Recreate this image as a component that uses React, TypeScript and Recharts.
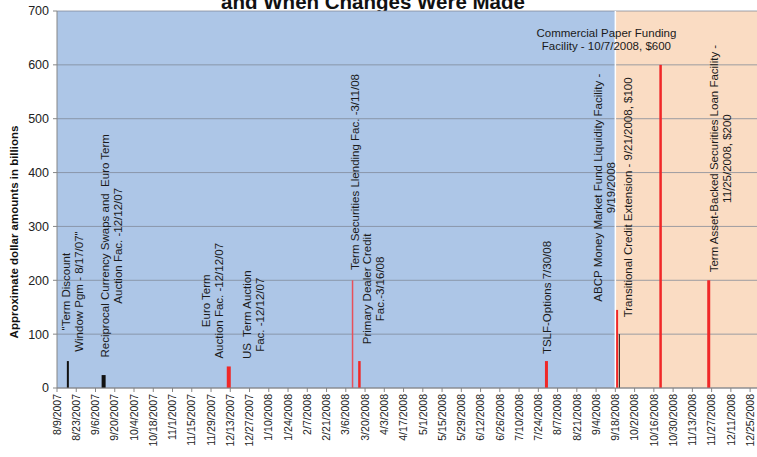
import { ComposedChart, Bar, XAxis, YAxis, CartesianGrid, ReferenceArea, ReferenceLine, ReferenceDot } from "recharts";

// x-axis tick labels (every two weeks)
const tickLabels = [
  "8/9/2007", "8/23/2007", "9/6/2007", "9/20/2007", "10/4/2007", "10/18/2007", "11/1/2007",
  "11/15/2007", "11/29/2007", "12/13/2007", "12/27/2007", "1/10/2008", "1/24/2008", "2/7/2008",
  "2/21/2008", "3/6/2008", "3/20/2008", "4/3/2008", "4/17/2008", "5/1/2008", "5/15/2008",
  "5/29/2008", "6/12/2008", "6/26/2008", "7/10/2008", "7/24/2008", "8/7/2008", "8/21/2008",
  "9/4/2008", "9/18/2008", "10/2/2008", "10/16/2008", "10/30/2008", "11/13/2008", "11/27/2008",
  "12/11/2008", "12/25/2008",
];

// facility dates and approximate amounts ($ billions)
const eventDates = [
  "8/17/2007", "9/12/2007", "12/12/2007", "3/11/2008", "3/16/2008",
  "7/30/2008", "9/19/2008", "9/21/2008", "10/21/2008", "11/25/2008",
];
const eventValues = [50, 24, 40, 200, 50, 50, 145, 100, 600, 200];

const yTicks = [0, 100, 200, 300, 400, 500, 600, 700];

// style per bar (separate from data)
const barStyles = [
  { fill: "#111111", w: 2 },
  { fill: "#111111", w: 4 },
  { fill: "#F02828", w: 4 },
  { fill: "#E8505A", w: 1.5 },
  { fill: "#F02828", w: 2.5 },
  { fill: "#F02828", w: 3 },
  { fill: "#F02828", w: 3 },
  { fill: "#111111", w: 1 },
  { fill: "#F02828", w: 2.5 },
  { fill: "#F02828", w: 3 },
];

const START = Date.UTC(2007, 7, 9);
const toDay = (s: string) => {
  const [m, d, y] = s.split("/").map(Number);
  return Math.round((Date.UTC(y, m - 1, d) - START) / 86400000);
};
const fromDay = (n: number) => {
  const dt = new Date(START + n * 86400000);
  return `${dt.getUTCMonth() + 1}/${dt.getUTCDate()}/${dt.getUTCFullYear()}`;
};

const data = eventDates.map((d, i) => ({ day: toDay(d), value: eventValues[i], idx: i }));
const ticks = tickLabels.map(toDay);
const splitDay = toDay("9/18/2008");
const endDay = 509;

// annotation anchors (day offset, value) - layout only
const notes = [
  { x: 11.6, y: 179, lines: ['"Term Discount', 'Window Pgm - 8/17/07"'] },
  { x: 39.3, y: 264, lines: ["Reciprocal Currency Swaps and  Euro Term", "Auction Fac. -12/12/07"] },
  { x: 113.4, y: 162, lines: ["Euro Term", "Auction Fac. -12/12/07"] },
  { x: 143.2, y: 136, lines: ["US  Term Auction", "Fac. -12/12/07"] },
  { x: 216.6, y: 401, lines: ["Term Securities Llending Fac. -3/11/08"] },
  { x: 230.4, y: 184, lines: ["Primary Dealer Credit", "Fac.-3/16/08"] },
  { x: 356.6, y: 168, lines: ["TSLF-Options 7/30/08"] },
  { x: 398, y: 372, lines: ["ABCP Money Market Fund Liquidity Facility -", "9/19/2008"] },
  { x: 415.5, y: 354, lines: ["Transitional Credit Extension - 9/21/2008, $100"] },
  { x: 482.7, y: 426, lines: ["Term Asset-Backed Securities Loan Facility -", "11/25/2008, $200"] },
];
const cpNote = { x: 399.5, y: 647, lines: ["Commercial Paper Funding", "Facility - 10/7/2008, $600"] };

const FONT = "Arial, 'Liberation Sans', sans-serif";

function NoteText({ cx, cy, lines, rotate }: { cx: number; cy: number; lines: string[]; rotate: boolean }) {
  const lh = 13;
  const n = lines.length;
  return (
    <text
      transform={`translate(${cx},${cy})${rotate ? " rotate(-90)" : ""}`}
      textAnchor="middle"
      fontFamily={FONT}
      fontSize={11.5}
      fill="#1a1a1a"
    >
      {lines.map((l, i) => (
        <tspan key={i} x={0} y={(i - (n - 1) / 2) * lh} dy="0.35em" style={{ whiteSpace: "pre" }}>
          {l}
        </tspan>
      ))}
    </text>
  );
}

function XTick(props: any) {
  const { x, y, payload } = props;
  return (
    <text
      transform={`translate(${x},${y}) rotate(-90)`}
      textAnchor="end"
      dy="0.35em"
      fontFamily={FONT}
      fontSize={10.5}
      fill="#222"
    >
      {fromDay(payload.value)}
    </text>
  );
}

function BarShape(props: any) {
  const { x, y, width, height, payload } = props;
  const s = barStyles[payload.idx];
  const cx = x + width / 2;
  return <rect x={cx - s.w / 2} y={y} width={s.w} height={height} fill={s.fill} />;
}

export default function App() {
  return (
    <div style={{ position: "absolute", left: 0, top: 0, width: 757, height: 457, background: "#fff", overflow: "hidden" }}>
      <div
        style={{
          position: "absolute",
          left: 373,
          top: -8,
          transform: "translateX(-50%)",
          fontFamily: FONT,
          fontWeight: "bold",
          fontSize: 20.5,
          lineHeight: "20px",
          whiteSpace: "nowrap",
          color: "#111",
        }}
      >
        and When Changes Were Made
      </div>
      <div
        style={{
          position: "absolute",
          left: 14,
          top: 232,
          transform: "translate(-50%, -50%) rotate(-90deg)",
          fontFamily: FONT,
          fontWeight: "bold",
          fontSize: 11.5,
          whiteSpace: "nowrap",
          color: "#111",
        }}
      >
        Approximate dollar amounts in billions
      </div>
      <ComposedChart width={757} height={457} data={data} margin={{ top: 11, right: 0, bottom: 0, left: 0 }}>
        <ReferenceArea x1={0} x2={splitDay} y1={0} y2={700} fill="#ADC6E7" fillOpacity={1} stroke="none" zIndex={-200} ifOverflow="visible" />
        <ReferenceArea x1={splitDay} x2={endDay} y1={0} y2={700} fill="#FADCC3" fillOpacity={1} stroke="none" zIndex={-200} ifOverflow="visible" />
        <CartesianGrid vertical={false} stroke="#7d8795" strokeOpacity={0.75} />
        <ReferenceLine x={splitDay} stroke="#ffffff" strokeWidth={1.5} />
        <XAxis
          dataKey="day"
          type="number"
          domain={[0, endDay]}
          ticks={ticks}
          interval={0}
          tick={<XTick />}
          tickSize={4}
          tickMargin={2}
          height={69}
          stroke="#868686"
          tickLine={{ stroke: "#868686" }}
          allowDataOverflow
        />
        <YAxis
          type="number"
          domain={[0, 700]}
          ticks={yTicks}
          width={57}
          tickSize={4}
          tickMargin={4}
          stroke="#868686"
          tick={{ fill: "#222", fontSize: 12.5, fontFamily: FONT }}
        />
        <Bar dataKey="value" barSize={4} shape={<BarShape />} isAnimationActive={false} />
        {notes.map((n, i) => (
          <ReferenceDot
            key={i}
            x={n.x}
            y={n.y}
            r={0}
            ifOverflow="visible"
            shape={(p: any) => <NoteText cx={p.cx} cy={p.cy} lines={n.lines} rotate />}
          />
        ))}
        <ReferenceDot
          x={cpNote.x}
          y={cpNote.y}
          r={0}
          ifOverflow="visible"
          shape={(p: any) => <NoteText cx={p.cx} cy={p.cy} lines={cpNote.lines} rotate={false} />}
        />
      </ComposedChart>
    </div>
  );
}
